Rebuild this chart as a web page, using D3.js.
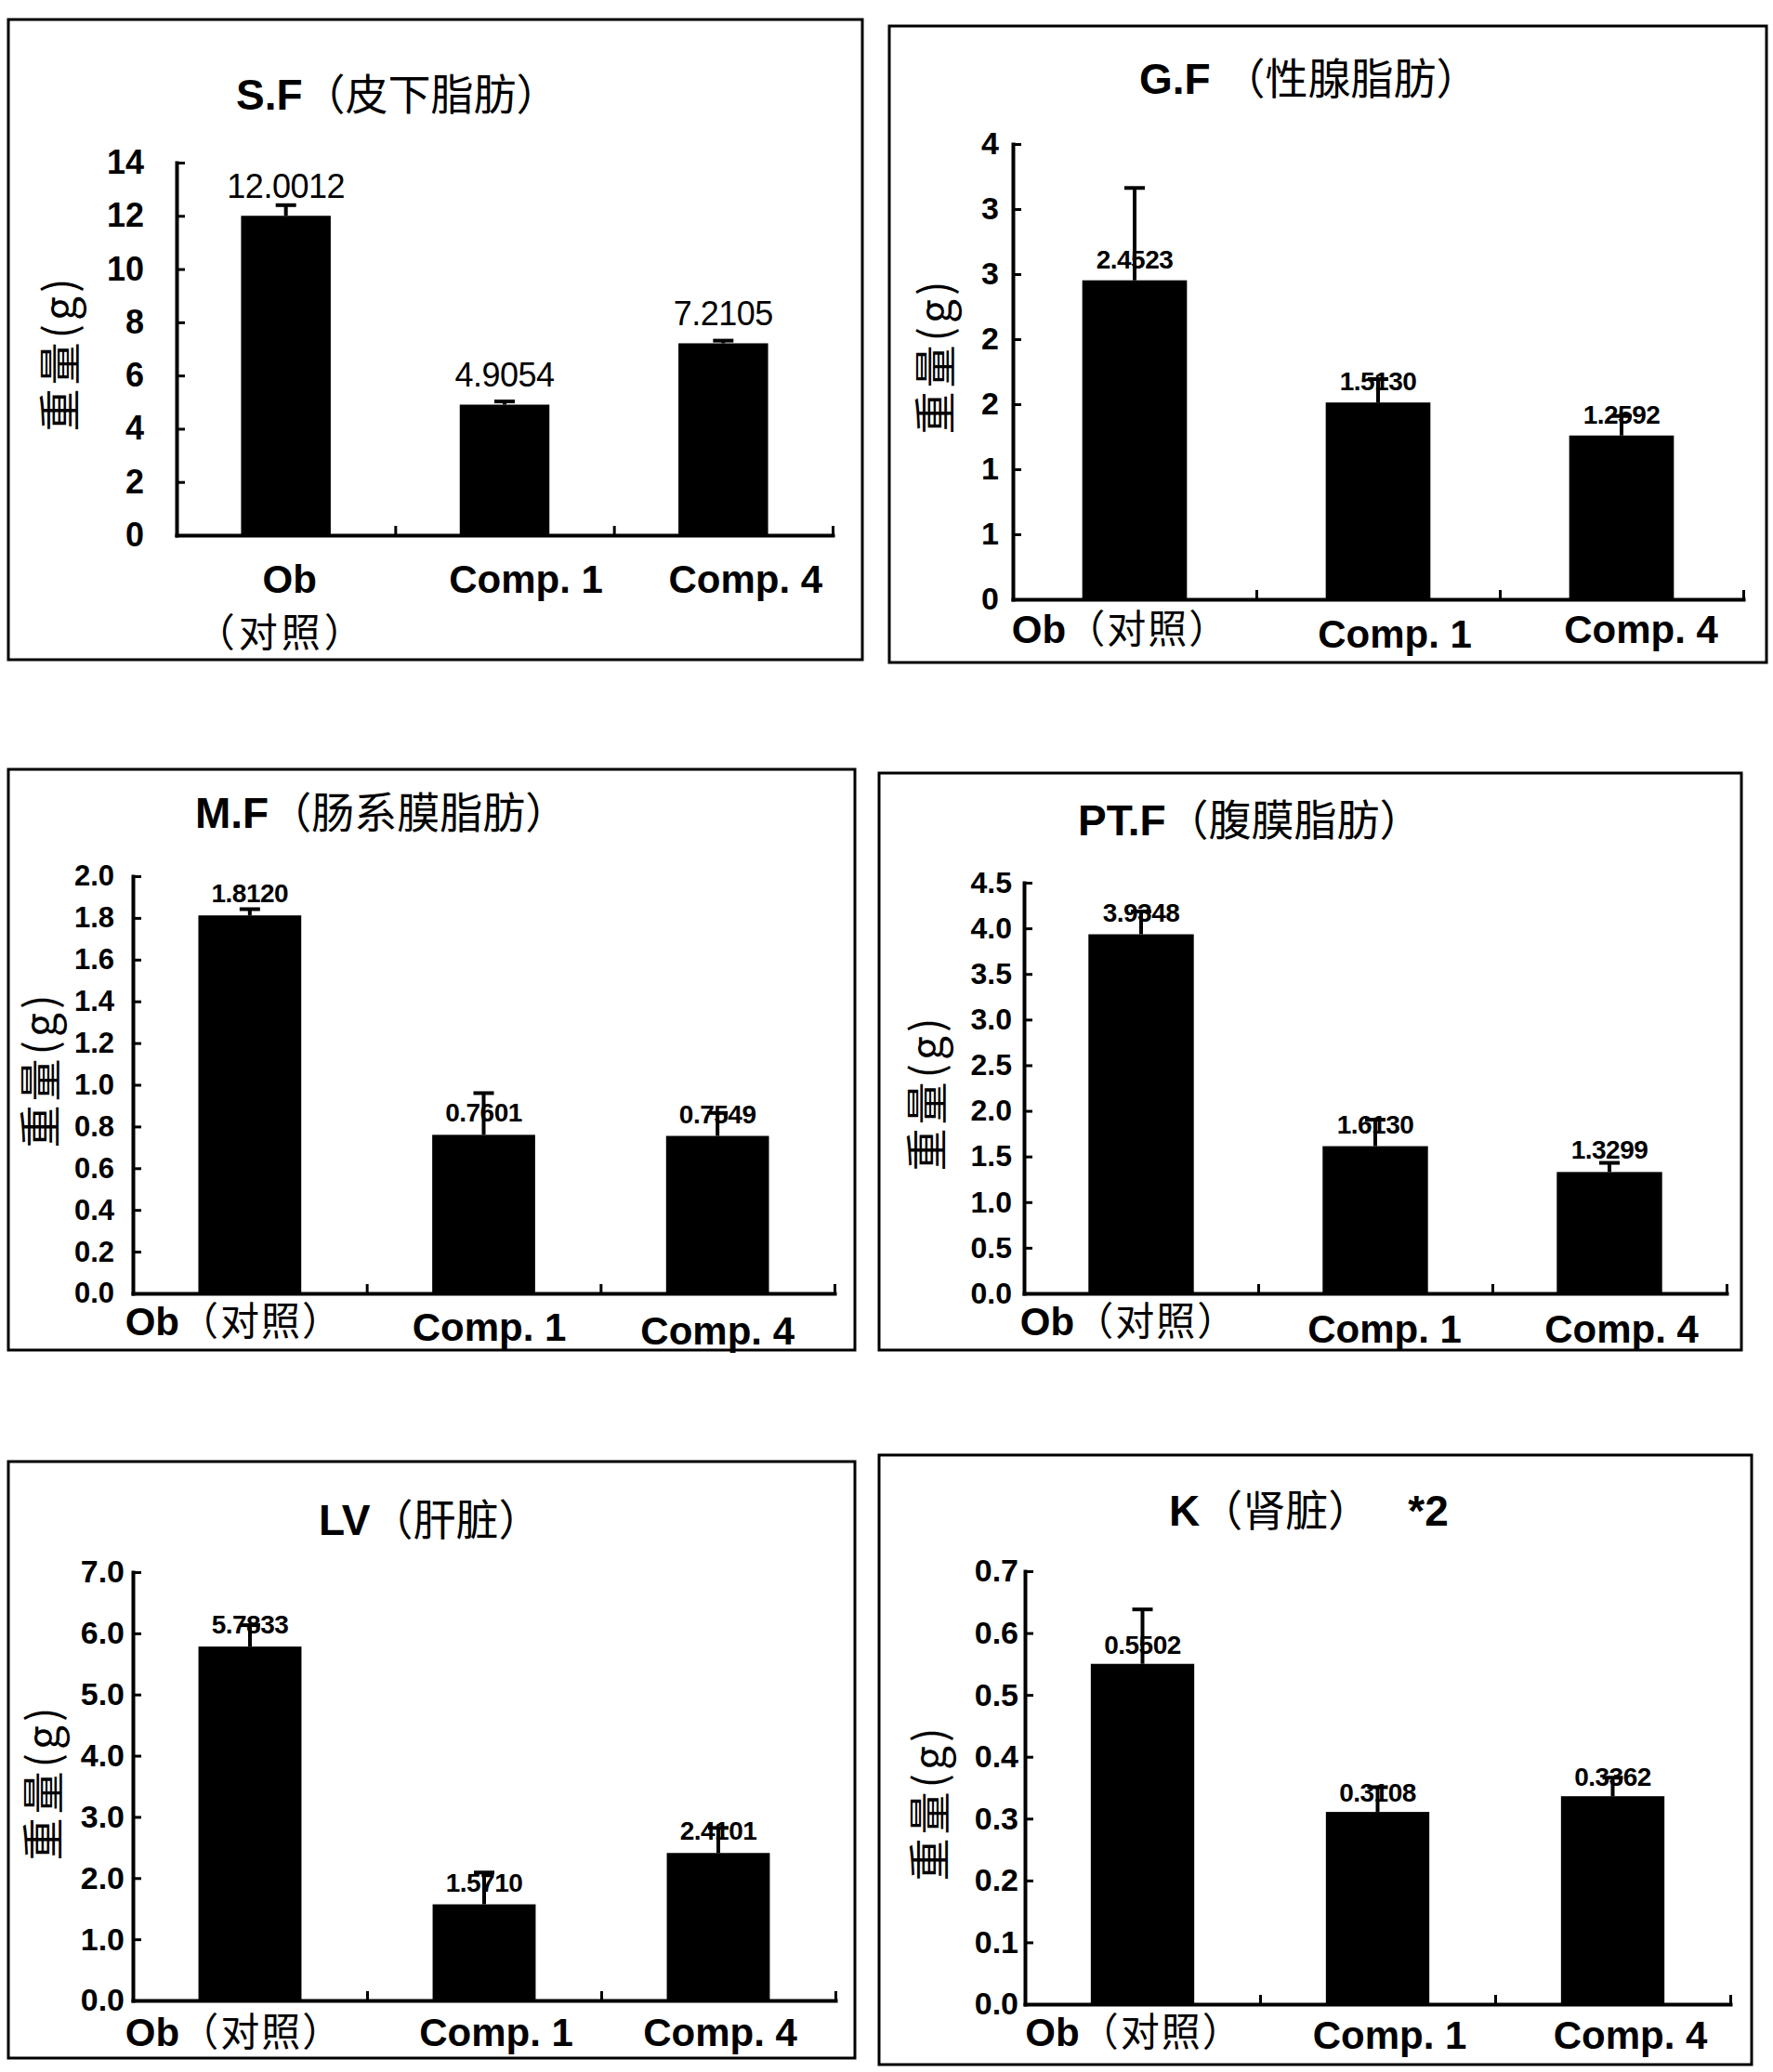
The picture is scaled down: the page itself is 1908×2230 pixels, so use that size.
<!DOCTYPE html>
<html>
<head>
<meta charset="utf-8">
<script src="https://cdn.jsdelivr.net/npm/d3@7"></script>
<style>
  body { margin: 0; background: #fff; }
  svg { display: block; background: #fff; }
</style>
</head>
<body>
<svg width="1908" height="2230"></svg>
<script>
const svg = d3.select("svg");

const LATIN = "'Liberation Sans', Arial, sans-serif",
    CJK = "'Noto Sans CJK SC', 'Noto Sans', sans-serif";

// data
const categories = ["Ob", "Comp. 1", "Comp. 4"];
const categoryNote = "（对照）";

const sfValues = [12.0012, 4.9054, 7.2105],
    sfErrors = [0.4, 0.12, 0.1],
    sfTicks = [0, 2, 4, 6, 8, 10, 12, 14];

const gfValues = [2.4523, 1.513, 1.2592],
    gfErrors = [0.71, 0.18, 0.15],
    gfTicks = [0, 0.5, 1, 1.5, 2, 2.5, 3, 3.5];

const mfValues = [1.812, 0.7601, 0.7549],
    mfErrors = [0.03, 0.2, 0.11],
    mfTicks = [0, 0.2, 0.4, 0.6, 0.8, 1.0, 1.2, 1.4, 1.6, 1.8, 2.0];

const ptfValues = [3.9348, 1.613, 1.3299],
    ptfErrors = [0.25, 0.29, 0.1],
    ptfTicks = [0, 0.5, 1.0, 1.5, 2.0, 2.5, 3.0, 3.5, 4.0, 4.5];

const lvValues = [5.7833, 1.571, 2.4101],
    lvErrors = [0.35, 0.52, 0.41],
    lvTicks = [0, 1, 2, 3, 4, 5, 6, 7];

const kValues = [0.5502, 0.3108, 0.3362],
    kErrors = [0.088, 0.04, 0.03],
    kTicks = [0, 0.1, 0.2, 0.3, 0.4, 0.5, 0.6, 0.7];

// layout of the six boxes
const panels = [{
        title: "S.F", cjk: "（皮下脂肪）", extra: "",
        values: sfValues, errors: sfErrors, ticks: sfTicks, fmt: "d",
        frame: [9, 21, 928, 710], x0: 190, x1: 896, y0: 576, y1: 175,
        titleX: 254, titleY: 118, yLab: [61, 380],
        tickFont: 36, tickPad: 35, barFrac: 0.41,
        valFont: 36, valWeight: "normal", valGap: 19,
        twoLine: true, labShift: [4, 23, 24], labY: [638, 638, 638], noteY: 696, noteShift: -5
    },
    {
        title: "G.F ", cjk: "（性腺脂肪）", extra: "",
        values: gfValues, errors: gfErrors, ticks: gfTicks, fmt: ".0f",
        frame: [957, 28, 1901, 713], x0: 1090, x1: 1876, y0: 645, y1: 155,
        titleX: 1226, titleY: 101, yLab: [1003, 383],
        tickFont: 34, tickPad: 15, barFrac: 0.43,
        valFont: 28, valWeight: "bold", valGap: 13,
        twoLine: false, labShift: [-15, 18, 21], labY: [692, 697, 692]
    },
    {
        title: "M.F", cjk: "（肠系膜脂肪）", extra: "",
        values: mfValues, errors: mfErrors, ticks: mfTicks, fmt: ".1f",
        frame: [9, 828, 920, 1453], x0: 143, x1: 898, y0: 1392, y1: 943,
        titleX: 210, titleY: 891, yLab: [40, 1151],
        tickFont: 31, tickPad: 20, barFrac: 0.44,
        valFont: 28, valWeight: "bold", valGap: 14,
        twoLine: false, labShift: [-17, 6, 0], labY: [1437, 1443, 1447]
    },
    {
        title: "PT.F", cjk: "（腹膜脂肪）", extra: "",
        values: ptfValues, errors: ptfErrors, ticks: ptfTicks, fmt: ".1f",
        frame: [946, 832, 1874, 1453], x0: 1102, x1: 1858, y0: 1392, y1: 950,
        titleX: 1160, titleY: 899, yLab: [994, 1176],
        tickFont: 32, tickPad: 13, barFrac: 0.45,
        valFont: 28, valWeight: "bold", valGap: 14,
        twoLine: false, labShift: [-13, 10, 13], labY: [1437, 1445, 1445]
    },
    {
        title: "LV", cjk: "（肝脏）", extra: "",
        values: lvValues, errors: lvErrors, ticks: lvTicks, fmt: ".1f",
        frame: [9, 1573, 920, 2215], x0: 143, x1: 899, y0: 2153, y1: 1692,
        titleX: 343, titleY: 1652, yLab: [43, 1918],
        tickFont: 34, tickPad: 9, barFrac: 0.44,
        valFont: 28, valWeight: "bold", valGap: 14,
        twoLine: false, labShift: [-17, 13, 2], labY: [2202, 2202, 2202]
    },
    {
        title: "K", cjk: "（肾脏）", extra: "*2",
        values: kValues, errors: kErrors, ticks: kTicks, fmt: ".1f",
        frame: [946, 1566, 1885, 2222], x0: 1103, x1: 1862, y0: 2157, y1: 1691,
        titleX: 1258, titleY: 1642, yLab: [997, 1940],
        tickFont: 34, tickPad: 7, barFrac: 0.44,
        valFont: 28, valWeight: "bold", valGap: 11,
        twoLine: false, labShift: [-9, 13, 19], labY: [2202, 2205, 2205]
    }
];

panels.forEach(drawPanel);

function drawPanel(p) {
    const g = svg.append("g");

    // box around the chart
    g.append("rect")
        .attr("x", p.frame[0])
        .attr("y", p.frame[1])
        .attr("width", p.frame[2] - p.frame[0])
        .attr("height", p.frame[3] - p.frame[1])
        .attr("fill", "none")
        .attr("stroke", "#000")
        .attr("stroke-width", 3);

    // title
    const title = g.append("text")
        .attr("x", p.titleX)
        .attr("y", p.titleY)
        .attr("font-size", 46)
        .attr("fill", "#000");
    title.append("tspan").attr("font-family", LATIN).attr("font-weight", "bold").text(p.title);
    title.append("tspan").attr("font-family", CJK).text(p.cjk);
    if (p.extra) {
        title.append("tspan").attr("dx", 40).attr("font-family", LATIN).attr("font-weight", "bold").text(p.extra);
    }

    const x = d3.scaleBand()
        .domain(categories)
        .range([p.x0, p.x1])
        .paddingInner(1 - p.barFrac)
        .paddingOuter((1 - p.barFrac) / 2);
    const y = d3.scaleLinear()
        .domain([0, d3.max(p.ticks)])
        .range([p.y0, p.y1]);

    // y axis, ticks pointing inwards
    const yAxis = g.append("g")
        .attr("transform", `translate(${p.x0},0)`)
        .call(d3.axisLeft(y)
            .tickValues(p.ticks)
            .tickFormat(d3.format(p.fmt))
            .tickSizeInner(-9)
            .tickSizeOuter(0)
            .tickPadding(p.tickPad));

    // x axis: ticks only at the group boundaries
    const xEdges = d3.scaleLinear().domain([0, categories.length]).range([p.x0, p.x1]);
    const xAxis = g.append("g")
        .attr("transform", `translate(0,${p.y0})`)
        .call(d3.axisBottom(xEdges)
            .tickValues([1, 2, 3])
            .tickSizeInner(-10)
            .tickSizeOuter(0)
            .tickFormat(""));

    [yAxis, xAxis].forEach((ax) => {
        ax.select(".domain").attr("stroke", "#000").attr("stroke-width", 4).attr("stroke-linecap", "square");
        ax.selectAll(".tick line").attr("stroke", "#000").attr("stroke-width", 3);
    });
    yAxis.selectAll(".tick text")
        .attr("fill", "#000")
        .attr("font-family", LATIN)
        .attr("font-weight", "bold")
        .attr("font-size", p.tickFont);

    const rows = categories.map((c, i) => ({
        c: c,
        v: p.values[i],
        e: p.errors[i]
    }));
    const cx = (d) => x(d.c) + x.bandwidth() / 2;

    // bars
    g.selectAll("rect.bar")
        .data(rows)
        .enter()
        .append("rect")
        .attr("class", "bar")
        .attr("x", (d) => x(d.c))
        .attr("y", (d) => y(d.v))
        .attr("width", x.bandwidth())
        .attr("height", (d) => y(0) - y(d.v))
        .attr("fill", "#000");

    // value labels
    g.selectAll("text.val")
        .data(rows)
        .enter()
        .append("text")
        .attr("class", "val")
        .attr("x", cx)
        .attr("y", (d) => y(d.v) - p.valGap)
        .attr("text-anchor", "middle")
        .attr("font-family", LATIN)
        .attr("font-weight", p.valWeight)
        .attr("font-size", p.valFont)
        .attr("letter-spacing", -0.5)
        .attr("fill", "#000")
        .text((d) => d.v.toFixed(4));

    // error bars (upper half only)
    const err = g.selectAll("g.err")
        .data(rows)
        .enter()
        .append("g")
        .attr("class", "err")
        .attr("stroke", "#000")
        .attr("stroke-width", 4);
    err.append("line")
        .attr("x1", cx)
        .attr("x2", cx)
        .attr("y1", (d) => y(d.v))
        .attr("y2", (d) => y(d.v + d.e));
    err.append("line")
        .attr("x1", (d) => cx(d) - 11)
        .attr("x2", (d) => cx(d) + 11)
        .attr("y1", (d) => y(d.v + d.e))
        .attr("y2", (d) => y(d.v + d.e));

    // category labels
    rows.forEach((d, i) => {
        const t = g.append("text")
            .attr("x", cx(d) + p.labShift[i])
            .attr("y", p.labY[i])
            .attr("text-anchor", "middle")
            .attr("font-size", 42)
            .attr("fill", "#000");
        t.append("tspan").attr("font-family", LATIN).attr("font-weight", "bold").text(d.c);
        if (i === 0) {
            if (p.twoLine) {
                g.append("text")
                    .attr("x", cx(d) + p.noteShift)
                    .attr("y", p.noteY)
                    .attr("text-anchor", "middle")
                    .attr("font-family", CJK)
                    .attr("font-size", 42)
                    .attr("letter-spacing", 4)
                    .attr("fill", "#000")
                    .text(categoryNote);
            } else {
                t.append("tspan").attr("font-family", CJK).attr("letter-spacing", 2).text(categoryNote);
            }
        }
    });

    // y axis title
    g.append("text")
        .attr("transform", `translate(${p.yLab[0]},${p.yLab[1]}) rotate(-90)`)
        .attr("text-anchor", "middle")
        .attr("dominant-baseline", "central")
        .attr("font-family", CJK)
        .attr("font-size", 46)
        .attr("letter-spacing", 4)
        .attr("fill", "#000")
        .text("重量(g)");
}
</script>
</body>
</html>
